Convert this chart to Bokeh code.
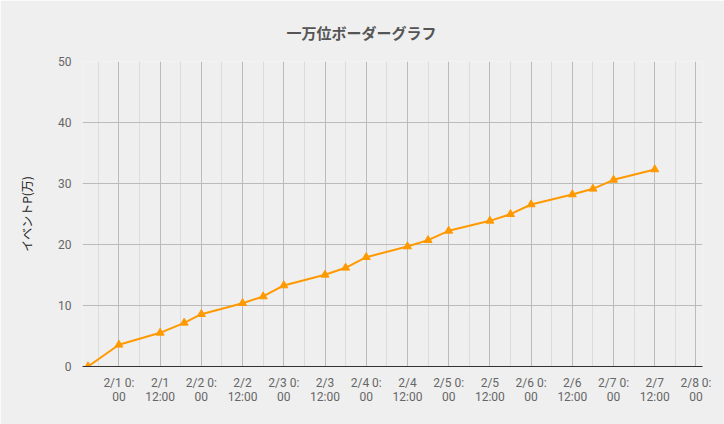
from datetime import datetime, timedelta
from bokeh.plotting import figure
from bokeh.models import FixedTicker, Range1d, Title
from bokeh.embed import file_html
from bokeh.resources import INLINE

# ---- data ----
title_text = "一万位ボーダーグラフ"
y_label = "イベントP(万)"
times = ["1/31 15:00", "2/1 0:00", "2/1 12:00", "2/1 19:00", "2/2 0:00", "2/2 12:00",
         "2/2 18:00", "2/3 0:00", "2/3 12:00", "2/3 18:00", "2/4 0:00", "2/4 12:00",
         "2/4 18:00", "2/5 0:00", "2/5 12:00", "2/5 18:00", "2/6 0:00", "2/6 12:00",
         "2/6 18:00", "2/7 0:00", "2/7 12:00"]
points = [0, 3.56, 5.52, 7.16, 8.58, 10.38, 11.48, 13.28, 15.03, 16.18, 17.92, 19.67,
          20.71, 22.24, 23.88, 24.97, 26.56, 28.2, 29.13, 30.6, 32.3]
tick_labels = ["2/1 0:\n00", "2/1\n12:00", "2/2 0:\n00", "2/2\n12:00", "2/3 0:\n00",
               "2/3\n12:00", "2/4 0:\n00", "2/4\n12:00", "2/5 0:\n00", "2/5\n12:00",
               "2/6 0:\n00", "2/6\n12:00", "2/7 0:\n00", "2/7\n12:00", "2/8 0:\n00"]
y_ticks = [0, 10, 20, 30, 40, 50]

YEAR = 2020
def parse(s):
    return datetime.strptime(f"{YEAR}/{s}", "%Y/%m/%d %H:%M")

def ms(d):
    return (d - datetime(1970, 1, 1)).total_seconds() * 1000.0

xs = [parse(t) for t in times]
start = datetime(YEAR, 2, 1, 0, 0)
major = [ms(start + timedelta(hours=12 * i)) for i in range(len(tick_labels))]
minor = [ms(start + timedelta(hours=6 + 12 * i)) for i in range(-1, 14)]

BG = "#efefef"
p = figure(width=724, height=424, x_axis_type="datetime",
           output_backend="svg", toolbar_location=None,
           x_range=Range1d(start - timedelta(hours=10.6), start + timedelta(hours=169.9)),
           y_range=Range1d(0, 50),
           min_border_left=82, min_border_right=22, min_border_top=61, min_border_bottom=58)
p.background_fill_color = BG
p.border_fill_color = BG
p.outline_line_color = None

p.title = Title(text=title_text, align="left", offset=204, text_font="Noto Sans CJK JP",
                text_font_size="15px", text_font_style="bold", text_color="#555555",
                standoff=37)

p.xaxis.ticker = FixedTicker(ticks=major, minor_ticks=minor)
p.xaxis.major_label_overrides = {t: l for t, l in zip(major, tick_labels)}
p.xaxis.major_label_text_font = "Roboto"
p.xaxis.major_label_text_font_size = "12px"
p.xaxis.major_label_text_color = "#666666"
p.xaxis.major_label_text_line_height = 1.0
p.xaxis.major_label_standoff = 3
p.xaxis.major_tick_line_color = None
p.xaxis.minor_tick_line_color = None
p.xaxis.axis_line_color = "#333333"

p.yaxis.ticker = FixedTicker(ticks=y_ticks)
p.yaxis.major_label_text_font = "Roboto"
p.yaxis.major_label_text_font_size = "12px"
p.yaxis.major_label_text_color = "#666666"
p.yaxis.major_label_standoff = 5
p.yaxis.major_tick_line_color = None
p.yaxis.minor_tick_line_color = None
p.yaxis.axis_line_color = None
p.yaxis.axis_label = y_label
p.yaxis.axis_label_text_font = "Noto Sans CJK JP"
p.yaxis.axis_label_text_font_size = "12px"
p.yaxis.axis_label_text_font_style = "normal"
p.yaxis.axis_label_text_color = "#222222"
p.yaxis.axis_label_standoff = 20

p.xgrid.grid_line_color = "#bbbbbb"
p.xgrid.minor_grid_line_color = "#dcdcdc"
p.ygrid.grid_line_color = "#bbbbbb"

p.line(xs, points, line_color="#ff9900", line_width=2)
p.scatter(xs, points, marker="triangle", size=8, fill_color="#ff9900", line_color="#ff9900")

open("out.html", "w").write(file_html(p, INLINE))
